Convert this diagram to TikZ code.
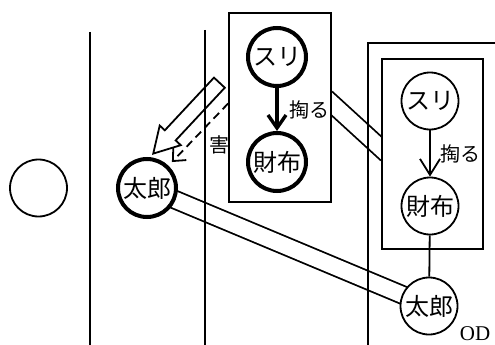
\documentclass[tikz,border=0pt]{standalone}
\usepackage{fontspec}
\setmainfont{Liberation Serif}
\newfontfamily\jp{Noto Sans CJK JP}
\usetikzlibrary{arrows.meta,calc,shapes.arrows,backgrounds}

\begin{document}
\begin{tikzpicture}[x=1pt,y=-1pt,line width=1.8pt,
  ent/.style={circle,draw,fill=white,inner sep=0pt,minimum size=57pt,font=\jp\fontsize{24}{26}\selectfont},
  hot/.style={ent,line width=4pt,minimum size=58pt},
  frame/.style={draw,fill=white,inner sep=0pt},
  link/.style={line width=1.8pt,double,double distance=16pt},
  lbl/.style={font=\jp\fontsize{20}{22}\selectfont,inner sep=1pt}]
  \useasboundingbox (0,0) rectangle (495,345);

  % Left panel.
  \node[ent] (empty) at (38.5,188) {};
  \draw (90,32)--(90,350);
  \draw (205,30)--(205,350);
  \node[hot] (taro1) at (147,188) {太郎};

  % Middle box.
  \node[frame,minimum width=102pt,minimum height=189pt] (box1) at (280,107.5) {};
  \node[hot] (suri1) at (277,57) {スリ};
  \node[hot] (saifu1) at (277,162) {財布};
  \draw[-{Straight Barb[length=13pt,width=18pt]},line width=3.4pt] (suri1)--(saifu1)
    node[midway,right=10pt,lbl] (suru1) {掏る};

  % OD frame.
  \draw (495,43) -| (368,350);
  \node[font=\fontsize{21}{23}\selectfont] (od) at (475,334) {OD};
  \node[frame,minimum width=101pt,minimum height=190pt] (inbox) at (432.5,154) {};
  \node[ent] (suri2) at (430,101) {スリ};
  \node[ent] (saifu2) at (430,206) {財布};
  \node[ent] (taro2) at (429,306) {太郎};
  \draw[-{Straight Barb[length=16pt,width=20pt]}] (suri2)--(saifu2)
    node[midway,right=9pt,lbl] (suru2) {掏る};
  \draw (saifu2)--(taro2);

  % Links between the two views.
  \begin{pgfonlayer}{background}
    \draw[link,shorten <=-4pt,shorten >=-4pt] (taro1)--(taro2);
    \draw[link,shorten <=-8pt,shorten >=-8pt]
      ($(box1.east)+(0,-4)$)--($(inbox.west)+(0,-5.5)$);
  \end{pgfonlayer}

  % Harm.
  \coordinate (hstart) at (220,82);
  \node[single arrow,draw,line width=1.8pt,rotate=227,anchor=tail,inner xsep=0pt,inner ysep=6.5pt,
    text height=0pt,text depth=0pt,minimum width=0pt,
    single arrow head extend=7pt,single arrow tip angle=60,minimum height=97pt] (harm) at (hstart) {};
  \draw[line width=1.8pt,dash pattern=on 8pt off 5pt,-{Straight Barb[length=10pt,width=18pt]},shorten >=5pt]
    ($(box1.west)+(0,-4)$)--(taro1);
  \node[lbl] (gai) at (219,145) {害};
\end{tikzpicture}
\end{document}
